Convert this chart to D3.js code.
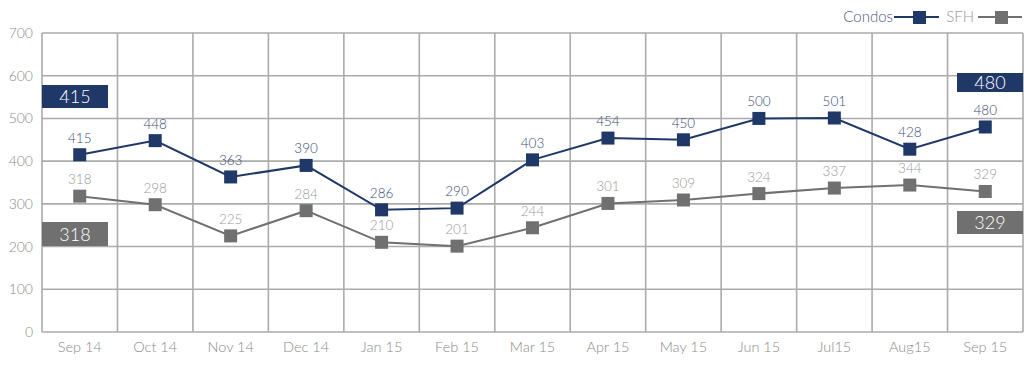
<!DOCTYPE html>
<html><head><meta charset="utf-8">
<script src="https://cdn.jsdelivr.net/npm/d3@7"></script>
<style>
body{margin:0;background:#fff;}
svg{display:block;font-family:Lato,"Open Sans",sans-serif;}
</style></head>
<body>
<svg id="c" width="1024" height="367"></svg>
<script>
const categories = ["Sep 14","Oct 14","Nov 14","Dec 14","Jan 15","Feb 15","Mar 15","Apr 15","May 15","Jun 15","Jul15","Aug15","Sep 15"];
const condos = [415,448,363,390,286,290,403,454,450,500,501,428,480];
const sfh = [318,298,225,284,210,201,244,301,309,324,337,344,329];
const yTicks = [0,100,200,300,400,500,600,700];
const seriesNames = ["Condos","SFH"];

(function(){
const navy = "#1f3868", grey = "#707070", gridC = "#ababab", textC = "#8a8a8a";
const svg = d3.select("#c");
const pl = 42, pr = 1023, pt = 33, pb = 332;
const x = d3.scaleBand().domain(categories).range([pl, pr]);
const y = d3.scaleLinear().domain([0,700]).range([pb, pt]);

// grid
const g = svg.append("g");
g.selectAll("line.h").data(yTicks).join("line")
  .attr("x1", pl).attr("x2", pr).attr("y1", d=>y(d)).attr("y2", d=>y(d))
  .attr("stroke", gridC).attr("stroke-width", 1.6);
const vx = categories.map(c=>x(c)).concat([pr]);
g.selectAll("line.v").data(vx).join("line")
  .attr("x1", d=>d).attr("x2", d=>d).attr("y1", pt).attr("y2", pb)
  .attr("stroke", gridC).attr("stroke-width", 1.6);

// axes text
const yAxis = d3.axisLeft(y).tickValues(yTicks).tickSize(0).tickPadding(9);
const ya = svg.append("g").attr("transform", `translate(${pl},0)`).call(yAxis);
ya.select(".domain").remove();
ya.selectAll("text").attr("fill", textC).attr("font-size", 14).attr("font-family","Lato").attr("font-weight",300);

const xAxis = d3.axisBottom(x).tickSize(0).tickPadding(10);
const xa = svg.append("g").attr("transform", `translate(0,${pb})`).call(xAxis);
xa.select(".domain").remove();
xa.selectAll("text").attr("fill", textC).attr("font-size", 14.5).attr("font-family","Lato").attr("font-weight",300);

const cx = c => x(c) + x.bandwidth()/2;
const line = d3.line().x((d,i)=>cx(categories[i])).y(d=>y(d));

function drawSeries(vals, color, labelColor){
  svg.append("path").datum(vals).attr("d", line).attr("fill","none")
    .attr("stroke", color).attr("stroke-width", 2);
  svg.append("g").selectAll("rect").data(vals).join("rect")
    .attr("x",(d,i)=>cx(categories[i])-6.5).attr("y", d=>y(d)-6.5)
    .attr("width",13).attr("height",13).attr("fill",color);
  svg.append("g").selectAll("text").data(vals).join("text")
    .attr("x",(d,i)=>cx(categories[i])).attr("y", d=>y(d)-12)
    .attr("text-anchor","middle").attr("fill",labelColor)
    .attr("font-size",13.5).attr("font-weight",300).text(d=>d);
}
drawSeries(sfh, grey, "#9a9a9a");
drawSeries(condos, navy, "#3a4d78");

// side boxes
function box(x0, y0, w, h, color, val){
  svg.append("rect").attr("x",x0).attr("y",y0).attr("width",w).attr("height",h).attr("fill",color);
  svg.append("text").attr("x",x0+w/2).attr("y",y0+h/2+6.5).attr("text-anchor","middle")
    .attr("fill","#fff").attr("font-size",18).attr("font-weight",300).text(val);
}
box(42, 85, 66, 23, navy, condos[0]);
box(42, 222, 66, 24, grey, sfh[0]);
box(957, 73, 66, 19, navy, condos[condos.length-1]);
box(957, 211, 66, 23, grey, sfh[sfh.length-1]);

// legend
const lg = svg.append("g");
lg.append("text").attr("x",893).attr("y",22).attr("text-anchor","end").attr("fill","#4a5a80")
  .attr("font-size",15).attr("font-weight",300).text(seriesNames[0]);
lg.append("line").attr("x1",894).attr("x2",939).attr("y1",17).attr("y2",17).attr("stroke",navy).attr("stroke-width",2);
lg.append("rect").attr("x",913).attr("y",11).attr("width",13).attr("height",13).attr("fill",navy);
lg.append("text").attr("x",974).attr("y",22).attr("text-anchor","end").attr("fill","#999")
  .attr("font-size",15).attr("font-weight",300).text(seriesNames[1]);
lg.append("line").attr("x1",978).attr("x2",1022).attr("y1",17).attr("y2",17).attr("stroke",grey).attr("stroke-width",2);
lg.append("rect").attr("x",995).attr("y",11).attr("width",13).attr("height",13).attr("fill",grey);
})();
</script>
</body></html>
